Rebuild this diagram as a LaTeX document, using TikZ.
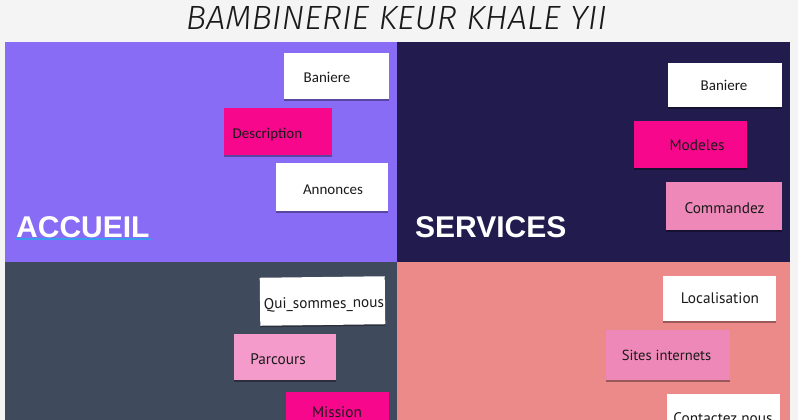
\documentclass[tikz,border=0pt]{standalone}
\usepackage{fontspec}
\usetikzlibrary{shadows}
\setmainfont{Carlito}
\newfontfamily\labelfont{Liberation Sans}
\newfontfamily\titlefont{Fira Sans Light Italic}
\newfontfamily\ptfont{PT Sans}
\definecolor{bgc}{HTML}{F4F4F4}
\definecolor{cpurple}{HTML}{896CF6}
\definecolor{cnavy}{HTML}{221B4E}
\definecolor{cslate}{HTML}{3F4A5C}
\definecolor{csalmon}{HTML}{EC8A8A}
\definecolor{cmagenta}{HTML}{F6078B}
\definecolor{cpink}{HTML}{EE88B8}
\definecolor{clightpink}{HTML}{F49BCB}
\definecolor{ublue}{HTML}{3A9BEF}
\definecolor{ctext}{HTML}{1A1A1A}
\begin{document}
\begin{tikzpicture}[x=1pt,y=-1pt,
  card/.style={rectangle, draw=none, inner sep=0pt,
    drop shadow={shadow xshift=0pt, shadow yshift=-1.5pt, opacity=0.35, fill=black}},
  txt/.style={anchor=base, inner sep=0pt, text=ctext, font=\fontsize{15}{18}\selectfont},
  ptxt/.style={anchor=base, inner sep=0pt, text=ctext, font=\ptfont\fontsize{15.3}{18}\selectfont},
  quad/.style={anchor=base west, inner sep=0pt, text=white, font=\labelfont\bfseries\fontsize{30}{36}\selectfont}]
\useasboundingbox (0,0) rectangle (798,420);
\fill[bgc] (0,0) rectangle (798,420);
% panels
\fill[cpurple] (5,42.5) rectangle (397,262);
\fill[cnavy] (397,42.5) rectangle (789.5,262);
\fill[cslate] (5,262) rectangle (397,420);
\fill[csalmon] (397,262) rectangle (789.5,420);
% title
\node[anchor=south, inner sep=0pt, text=ctext] (title) at (396.5,30)
  {\resizebox{421pt}{23pt}{\titlefont BAMBINERIE KEUR KHALE YII}};
% quadrant labels
\node[quad] (accueil) at (16,237) {ACCUEIL};
\draw[ublue, line width=1.5pt] (15,239) -- (151,239);
\node[quad] (services) at (415,237) {SERVICES};
% ACCUEIL cards
\node[card, fill=white, minimum width=105pt, minimum height=46pt] (b1) at (336.5,76) {};
\node[txt] (t1) at (327,82.7) {Baniere};
\node[card, fill=cmagenta, minimum width=108pt, minimum height=47pt] (b2) at (278,131.5) {};
\node[txt] (t2) at (267.5,138.3) {Description};
\node[card, fill=white, minimum width=112pt, minimum height=48pt] (b3) at (332,187) {};
\node[txt] (t3) at (333,194.3) {Annonces};
% SERVICES cards
\node[card, fill=white, minimum width=114pt, minimum height=44pt] (b4) at (725,85) {};
\node[txt] (t4) at (724,90.7) {Baniere};
\node[card, fill=cmagenta, minimum width=113pt, minimum height=47pt] (b5) at (690.5,144.5) {};
\node[ptxt] (t5) at (697,150) {Modeles};
\node[card, fill=cpink, minimum width=116pt, minimum height=48pt] (b6) at (724,206) {};
\node[ptxt] (t6) at (724.5,213.3) {Commandez};
% bottom-left cards
\node[card, fill=white, minimum width=125pt, minimum height=48pt, rotate=0.7] (b7) at (322.5,301) {};
\node[ptxt, rotate=0.7] (t7) at (324,308.3) {Qui\_sommes\_nous};
\node[card, fill=clightpink, minimum width=102pt, minimum height=46pt] (b8) at (285,357) {};
\node[ptxt] (t8) at (278,364) {Parcours};
\node[card, fill=cmagenta, minimum width=103pt, minimum height=48pt] (b9) at (337.5,416) {};
\node[ptxt] (t9) at (337,417.5) {Mission};
% bottom-right cards
\node[card, fill=white, minimum width=113pt, minimum height=45pt] (b10) at (719.5,298.5) {};
\node[ptxt] (t10) at (720,303.3) {Localisation};
\node[card, fill=cpink, minimum width=124pt, minimum height=50pt] (b11) at (668,355) {};
\node[ptxt, font=\ptfont\fontsize{14.6}{18}\selectfont] (t11) at (666.5,360.7) {Sites internets};
\node[card, fill=white, minimum width=113pt, minimum height=46pt] (b12) at (723.5,417) {};
\node[ptxt] (t12) at (723,423.5) {Contactez nous};
\end{tikzpicture}
\end{document}
